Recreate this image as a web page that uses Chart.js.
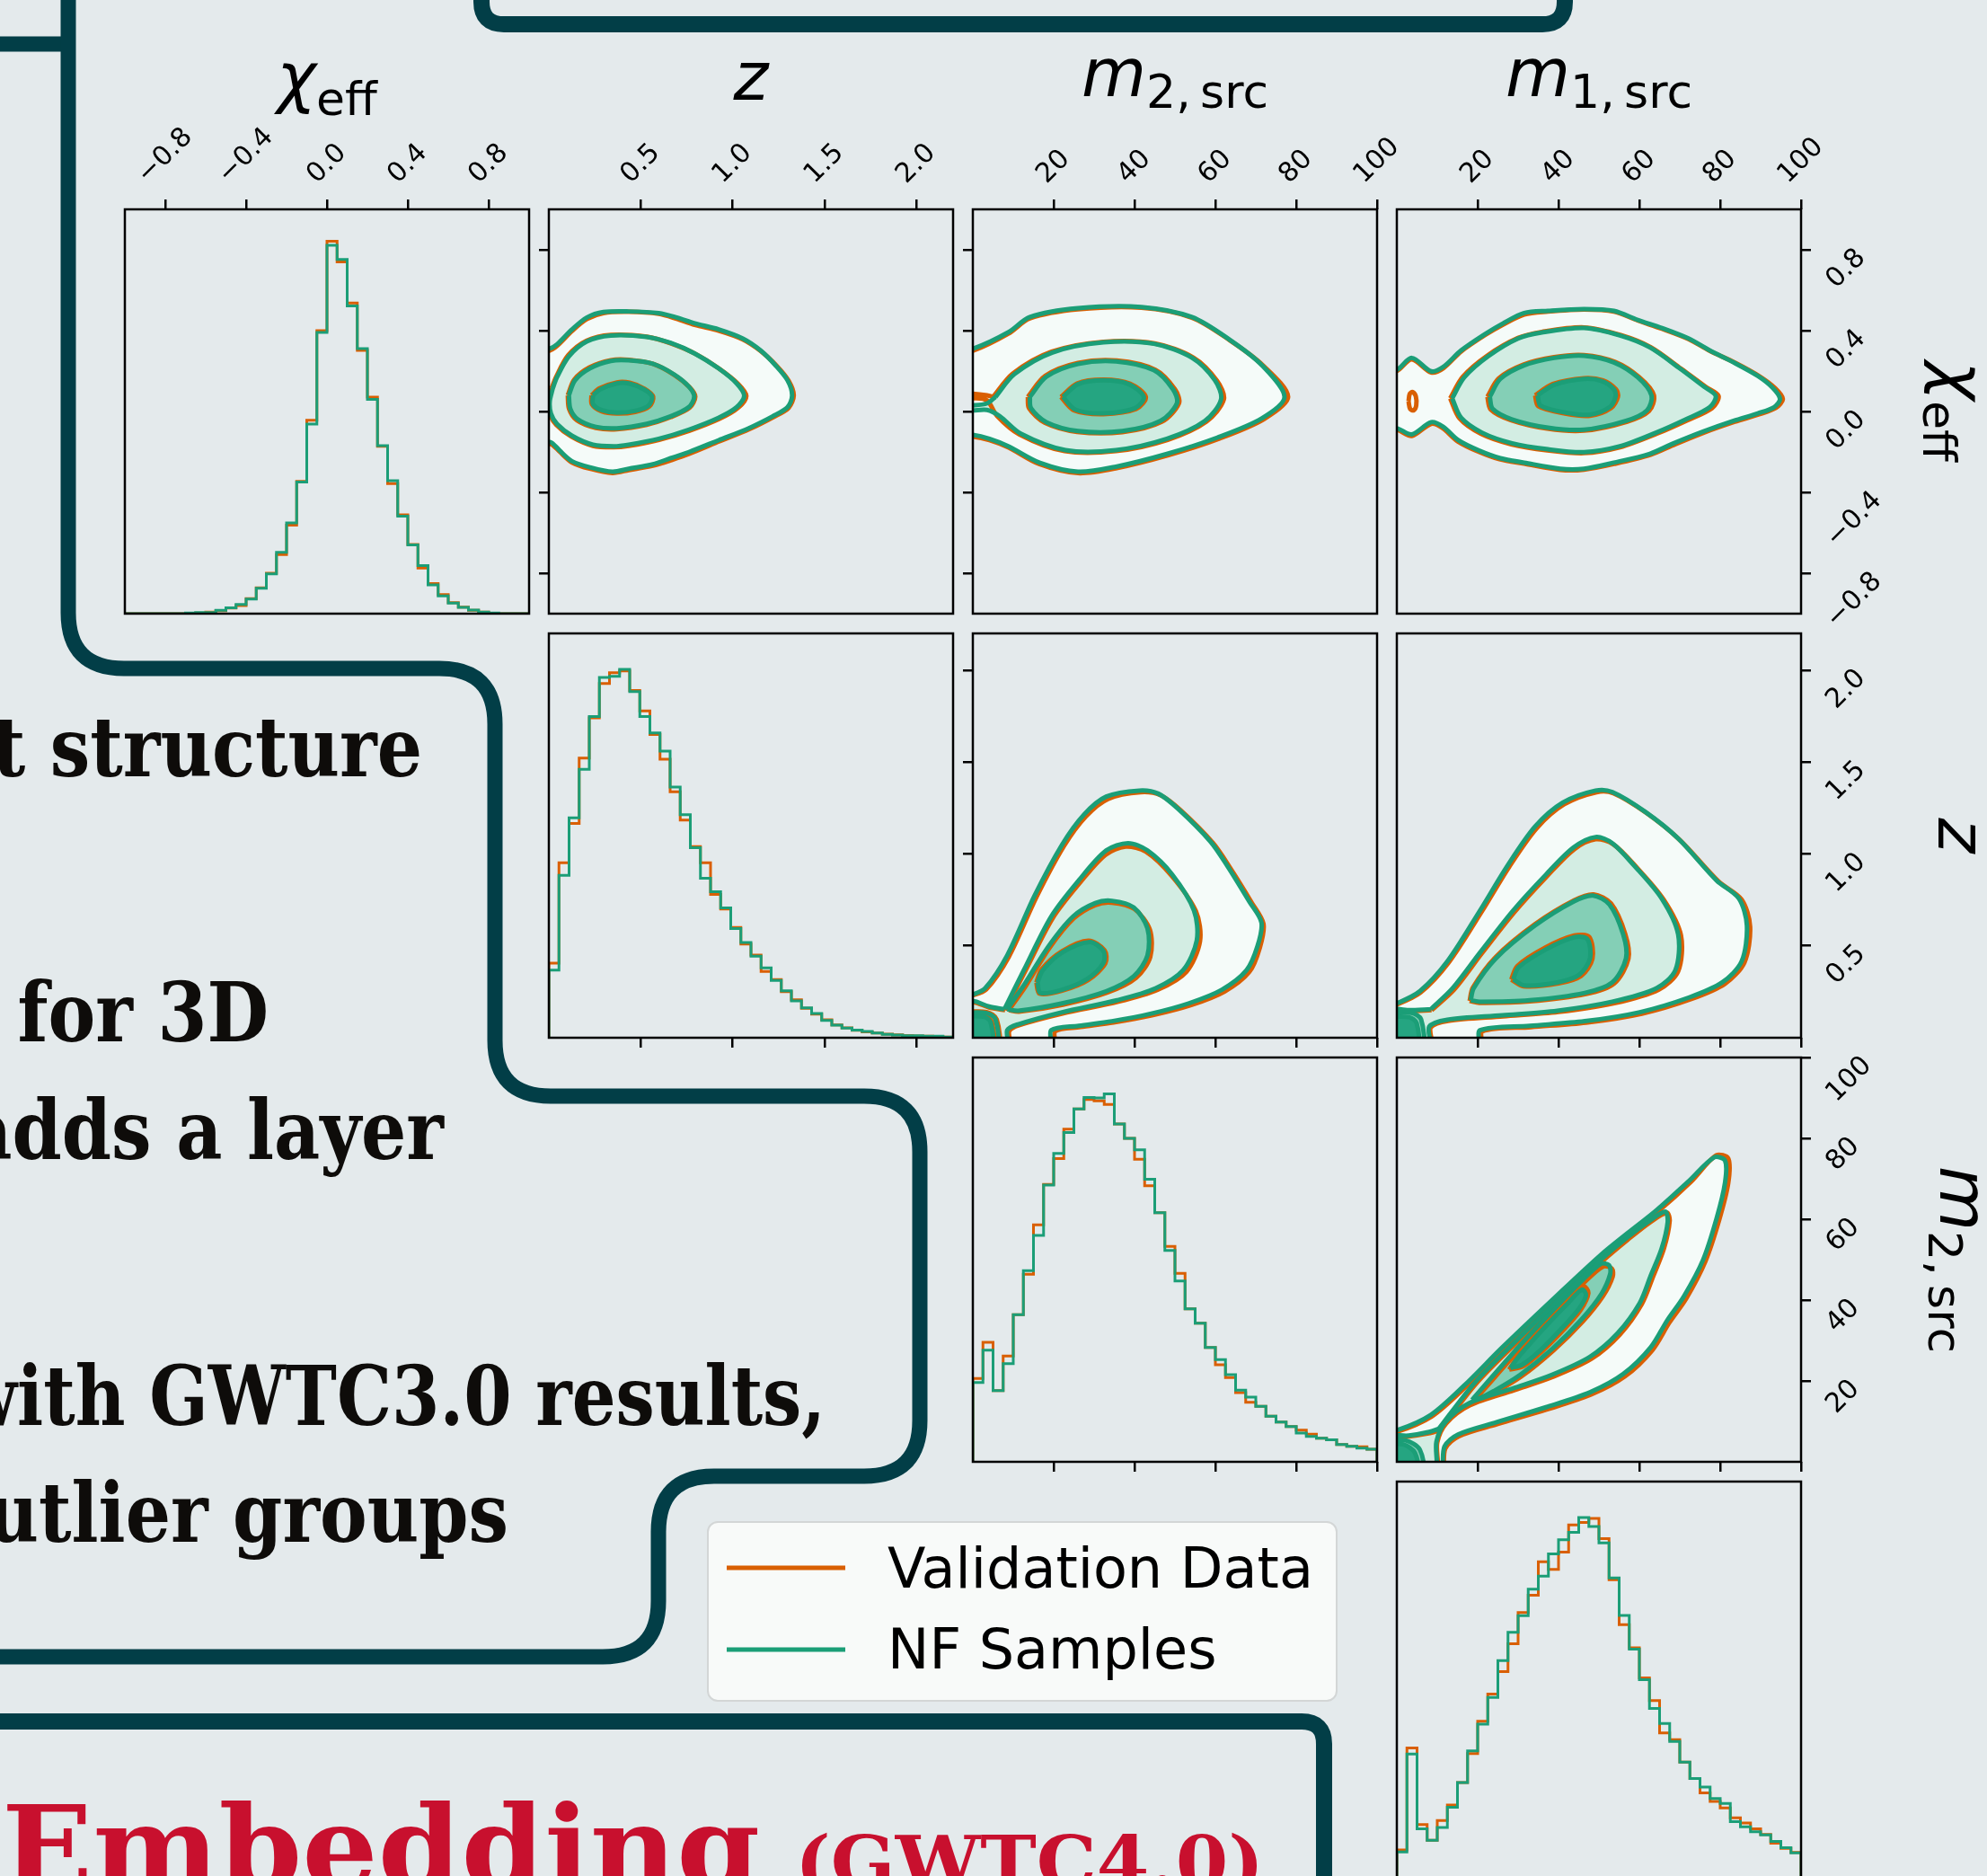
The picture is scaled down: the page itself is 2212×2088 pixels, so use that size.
<!DOCTYPE html>
<html>
<head>
<meta charset="utf-8">
<title>Validation data vs NF samples</title>
<script src="https://cdn.jsdelivr.net/npm/chart.js@4.4.1/dist/chart.umd.min.js"></script>
<style>
  html, body { margin: 0; padding: 0; }
  body { width: 2212px; height: 2088px; overflow: hidden; position: relative; background: #e4eaec; }
  canvas { position: absolute; }
  svg { position: absolute; left: 0; top: 0; }
  .lab { font-family: "DejaVu Sans"; font-size: 74px; fill: #000; }
  .pt { font-family: "DejaVu Serif"; font-weight: bold; font-size: 92px; fill: #0e0c0a; }
  .red { font-family: "DejaVu Serif"; font-weight: bold; fill: #c8102e; }
  .leg { font-family: "DejaVu Sans"; font-size: 62px; fill: #000; }
</style>
</head>
<body>
<svg width="2212" height="2088">
  <g fill="none" stroke="#023e47" stroke-width="17">
    <path d="M -20 49 L 76 49"/>
    <path d="M 76 -20 L 76 682 Q 76 744 138 744 L 489 744 Q 551 744 551 806 L 551 1158 Q 551 1220 613 1220 L 962 1220 Q 1024 1220 1024 1282 L 1024 1581 Q 1024 1643 962 1643 L 795 1643 Q 733 1643 733 1705 L 733 1782 Q 733 1844 671 1844 L -20 1844"/>
    <path stroke-width="18" d="M 536 -20 L 536 2 Q 536 27 561 27 L 1717 27 Q 1742 27 1742 2 L 1742 -20"/>
    <path stroke-width="18" d="M -20 1916 L 1449 1916 Q 1474 1916 1474 1941 L 1474 2110"/>
  </g>

  <text class="pt" data-w="1.03" x="470" y="864" text-anchor="end">t structure</text>
  <text class="pt" data-w="1.03" x="299" y="1159" text-anchor="end">s for 3D</text>
  <text class="pt" data-w="1.03" x="494" y="1290" text-anchor="end">adds a layer</text>
  <text class="pt" data-w="1" x="919" y="1586" text-anchor="end">with GWTC3.0 results,</text>
  <text class="pt" data-w="1.03" x="566" y="1716" text-anchor="end">utlier groups</text>

  <text class="red" x="2" y="2101" font-size="128" textLength="844" lengthAdjust="spacingAndGlyphs">Embedding</text>
  <text class="red" x="885" y="2101" font-size="80" textLength="522" lengthAdjust="spacingAndGlyphs">(GWTC4.0)</text>

  <!-- axis labels -->
  <text class="lab" x="364" y="111" text-anchor="middle"><tspan font-style="italic">χ</tspan><tspan font-size="52" dy="17">eff</tspan></text>
  <text class="lab" x="836" y="111" text-anchor="middle"><tspan font-style="italic">z</tspan></text>
  <text class="lab" x="1308" y="107" text-anchor="middle"><tspan font-style="italic">m</tspan><tspan font-size="52" dy="13">2,&#8201;src</tspan></text>
  <text class="lab" x="1780" y="107" text-anchor="middle"><tspan font-style="italic">m</tspan><tspan font-size="52" dy="13">1,&#8201;src</tspan></text>
  <text class="lab" transform="translate(2158 458) rotate(90)" text-anchor="middle"><tspan font-style="italic">χ</tspan><tspan font-size="52" dy="17">eff</tspan></text>
  <text class="lab" transform="translate(2158 930) rotate(90)" text-anchor="middle"><tspan font-style="italic">z</tspan></text>
  <text class="lab" transform="translate(2160 1402) rotate(90)" text-anchor="middle"><tspan font-style="italic">m</tspan><tspan font-size="52" dy="13">2,&#8201;src</tspan></text>

  <!-- legend -->
  <rect x="788" y="1694" width="700" height="199" rx="11" fill="#f8faf9" stroke="#d3d6d6" stroke-width="2"/>
  <path d="M 809 1745 L 941 1745" stroke="#d95f02" stroke-width="5"/>
  <path d="M 809 1836 L 941 1836" stroke="#1b9e77" stroke-width="5"/>
  <text class="leg" x="988" y="1767">Validation Data</text>
  <text class="leg" x="988" y="1857">NF Samples</text>
</svg>

<script>
// bin edges of the 1D histograms
var chiEdges = [-1.00,-0.95,-0.90,-0.85,-0.80,-0.75,-0.70,-0.65,-0.60,-0.55,-0.50,-0.45,-0.40,-0.35,-0.30,-0.25,-0.20,-0.15,-0.10,-0.05,
  0.00,0.05,0.10,0.15,0.20,0.25,0.30,0.35,0.40,0.45,0.50,0.55,0.60,0.65,0.70,0.75,0.80,0.85,0.90,0.95,1.00];
var zEdges = [0,0.055,0.11,0.165,0.22,0.275,0.33,0.385,0.44,0.495,0.55,0.605,0.66,0.715,0.77,0.825,0.88,0.935,0.99,1.045,
  1.10,1.155,1.21,1.265,1.32,1.375,1.43,1.485,1.54,1.595,1.65,1.705,1.76,1.815,1.87,1.925,1.98,2.035,2.09,2.145,2.20];
var massEdges = [0,2.5,5,7.5,10,12.5,15,17.5,20,22.5,25,27.5,30,32.5,35,37.5,40,42.5,45,47.5,
  50,52.5,55,57.5,60,62.5,65,67.5,70,72.5,75,77.5,80,82.5,85,87.5,90,92.5,95,97.5,100];

// normalised histogram heights (validation = orange, NF = green)
var chiVal = [0,0,0,0,0,0,0.001,0.002,0.004,0.008,0.015,0.022,0.041,0.070,0.110,0.161,0.241,0.360,0.526,0.770,
  1.013,0.957,0.845,0.716,0.589,0.455,0.354,0.269,0.188,0.124,0.082,0.052,0.030,0.018,0.009,0.004,0.001,0,0,0];
var chiNF = [0,0,0,0,0,0,0.002,0.003,0.003,0.009,0.016,0.025,0.040,0.069,0.108,0.167,0.247,0.358,0.516,0.765,
  1.002,0.964,0.837,0.721,0.583,0.457,0.362,0.265,0.187,0.131,0.078,0.048,0.029,0.017,0.010,0.004,0.002,0,0,0];
var zVal = [0.203,0.476,0.583,0.761,0.870,0.964,0.993,0.998,0.945,0.889,0.825,0.758,0.669,0.592,0.520,0.476,0.390,0.350,0.300,0.255,
  0.225,0.180,0.158,0.125,0.103,0.080,0.064,0.049,0.035,0.027,0.020,0.016,0.013,0.010,0.008,0.006,0.005,0.004,0.003,0.002];
var zNF = [0.184,0.442,0.598,0.730,0.874,0.980,0.983,1.002,0.942,0.874,0.829,0.780,0.682,0.607,0.517,0.434,0.397,0.353,0.297,0.259,
  0.222,0.190,0.156,0.128,0.100,0.081,0.066,0.047,0.034,0.026,0.021,0.017,0.013,0.009,0.0075,0.0056,0.0056,0.004,0.004,0.002];
var m2Val = [0.227,0.325,0.194,0.288,0.400,0.510,0.645,0.755,0.825,0.905,0.960,0.986,0.982,0.972,0.919,0.880,0.823,0.751,0.678,0.586,
  0.513,0.416,0.377,0.311,0.264,0.229,0.188,0.162,0.151,0.124,0.108,0.096,0.086,0.075,0.064,0.060,0.047,0.042,0.041,0.034];
var m2NF = [0.216,0.304,0.194,0.267,0.400,0.520,0.616,0.753,0.839,0.896,0.960,0.991,0.990,1.001,0.919,0.880,0.849,0.769,0.678,0.575,
  0.492,0.416,0.377,0.311,0.278,0.237,0.195,0.176,0.151,0.124,0.108,0.096,0.078,0.069,0.064,0.060,0.047,0.042,0.037,0.034];
var m1Val = [0.098,0.375,0.167,0.124,0.178,0.220,0.281,0.360,0.448,0.522,0.583,0.659,0.744,0.791,0.882,0.861,0.908,0.982,0.989,1.000,
  0.945,0.833,0.711,0.648,0.566,0.504,0.416,0.398,0.337,0.292,0.253,0.230,0.212,0.185,0.171,0.155,0.140,0.116,0.102,0.091];
var m1NF = [0.092,0.359,0.155,0.124,0.159,0.214,0.281,0.367,0.440,0.513,0.613,0.690,0.735,0.807,0.843,0.903,0.942,0.962,1.002,0.978,
  0.933,0.838,0.736,0.644,0.561,0.483,0.442,0.393,0.337,0.292,0.269,0.238,0.224,0.175,0.161,0.147,0.139,0.121,0.104,0.090];

// tick values and axis ranges
var chiTicks = [-0.8, -0.4, 0.0, 0.4, 0.8];
var zTicks = [0.5, 1.0, 1.5, 2.0];
var massTicks = [20, 40, 60, 80, 100];
var chiRange = [-1, 1], zRange = [0, 2.2], massRange = [0, 100], histRange = [0, 1.1];

// contour levels, outer (2 sigma) to inner (0.5 sigma). [x, y] in data units
// z vs chi_eff
var A4 = [[-0.05,0.31],[0,0.310],[0.044,0.332],[0.126,0.406],[0.207,0.465],[0.297,0.492],[0.435,0.495],[0.598,0.487],[0.696,0.465],[0.794,0.436],[0.924,0.406],[1.055,0.361],[1.152,0.302],[1.234,0.228],[1.299,0.154],[1.324,0.080],[1.299,0.021],[1.218,-0.024],[1.087,-0.083],[0.924,-0.142],[0.761,-0.201],[0.663,-0.231],[0.566,-0.261],[0.435,-0.283],[0.346,-0.298],[0.223,-0.276],[0.126,-0.246],[0.060,-0.194],[0.020,-0.157],[0,-0.150],[-0.05,-0.15]];
var A3 = [[0.020,0.110],[0.044,0.169],[0.109,0.273],[0.207,0.347],[0.337,0.376],[0.533,0.369],[0.663,0.339],[0.794,0.287],[0.924,0.213],[1.022,0.139],[1.063,0.077],[1.022,0.021],[0.924,-0.031],[0.761,-0.090],[0.598,-0.135],[0.435,-0.164],[0.354,-0.172],[0.240,-0.164],[0.126,-0.120],[0.044,-0.061],[0.011,-0.009],[0.005,0.050]];
var A2 = [[0.109,0.080],[0.142,0.154],[0.223,0.213],[0.337,0.250],[0.435,0.253],[0.566,0.236],[0.680,0.184],[0.761,0.124],[0.791,0.073],[0.761,0.021],[0.663,-0.024],[0.533,-0.061],[0.370,-0.083],[0.256,-0.076],[0.158,-0.039],[0.117,0.013]];
var A1 = [[0.240,0.080],[0.280,0.110],[0.370,0.139],[0.435,0.139],[0.517,0.110],[0.562,0.073],[0.541,0.028],[0.468,0.003],[0.370,-0.006],[0.289,0.006],[0.240,0.036]];
var A4o = [[-0.05,0.30],[0,0.300],[0.044,0.324],[0.126,0.398],[0.207,0.457],[0.297,0.487],[0.435,0.493],[0.598,0.483],[0.696,0.458],[0.794,0.428],[0.924,0.400],[1.055,0.357],[1.155,0.298],[1.240,0.226],[1.305,0.152],[1.333,0.080],[1.305,0.018],[1.222,-0.028],[1.090,-0.088],[0.928,-0.148],[0.766,-0.209],[0.668,-0.240],[0.566,-0.268],[0.435,-0.290],[0.346,-0.304],[0.223,-0.283],[0.126,-0.252],[0.060,-0.200],[0.020,-0.165],[0,-0.160],[-0.05,-0.16]];
var A3o = [[0.015,0.115],[0.040,0.172],[0.105,0.278],[0.205,0.350],[0.337,0.379],[0.533,0.370],[0.663,0.337],[0.800,0.284],[0.930,0.210],[1.030,0.137],[1.075,0.077],[1.030,0.018],[0.930,-0.036],[0.766,-0.095],[0.600,-0.140],[0.435,-0.170],[0.354,-0.177],[0.240,-0.170],[0.122,-0.124],[0.040,-0.066],[0.005,-0.012],[0.0,0.050]];
var A2o = [[0.103,0.080],[0.138,0.158],[0.220,0.218],[0.337,0.254],[0.435,0.256],[0.566,0.236],[0.683,0.181],[0.766,0.120],[0.797,0.073],[0.766,0.018],[0.663,-0.028],[0.533,-0.066],[0.370,-0.088],[0.256,-0.081],[0.152,-0.043],[0.110,0.013]];
var A1o = [[0.232,0.080],[0.275,0.114],[0.370,0.144],[0.440,0.142],[0.522,0.112],[0.568,0.073],[0.547,0.025],[0.470,-0.002],[0.370,-0.010],[0.285,0.002],[0.234,0.036]];

// m2 vs chi_eff
var B4 = [[-3,0.31],[0,0.310],[8.8,0.392],[14.1,0.467],[26.0,0.511],[41.7,0.517],[54.2,0.467],[63.6,0.354],[71.5,0.229],[77.1,0.072],[71.5,-0.034],[60.5,-0.129],[48.0,-0.210],[35.4,-0.273],[26.0,-0.298],[16.6,-0.254],[8.8,-0.172],[4.1,-0.135],[0,-0.116],[-3,-0.116]];
var B3 = [[5.6,0.072],[10.3,0.185],[19.7,0.292],[32.3,0.342],[44.8,0.335],[54.2,0.266],[59.9,0.154],[61.4,0.060],[57.4,-0.047],[48.0,-0.135],[35.4,-0.191],[22.9,-0.191],[11.9,-0.110],[6.6,-0.022],[3.5,0.008],[0,0.005],[-3,0.005],[-3,0.030],[0,0.030],[3.5,0.040]];
var B2 = [[14.1,0.072],[18.2,0.172],[26.0,0.235],[35.4,0.248],[44.8,0.204],[49.5,0.110],[50.5,0.041],[46.4,-0.047],[37.0,-0.097],[26.0,-0.097],[18.2,-0.053],[14.4,0.016]];
var B1 = [[22.3,0.072],[26.0,0.135],[32.3,0.154],[38.6,0.135],[42.3,0.072],[40.1,0.016],[32.3,-0.009],[25.4,0.009]];
var B4o = [[-3,0.30],[0,0.300],[8.8,0.385],[14.1,0.460],[26.0,0.505],[41.7,0.513],[54.2,0.464],[63.6,0.352],[71.8,0.228],[78.0,0.072],[72.0,-0.038],[61.0,-0.134],[48.4,-0.216],[35.6,-0.280],[26.0,-0.305],[16.4,-0.260],[8.8,-0.178],[4.1,-0.142],[0,-0.124],[-3,-0.124]];
var B3o = [[5.0,0.072],[9.9,0.188],[19.5,0.296],[32.3,0.345],[45.0,0.337],[54.6,0.266],[60.4,0.152],[62.1,0.060],[57.8,-0.050],[48.2,-0.140],[35.4,-0.196],[22.7,-0.196],[11.5,-0.113],[6.0,-0.022],[3.5,0.055],[0,0.066],[-3,0.066],[-3,0.088],[0,0.088],[3.5,0.080]];
var B2o = [[13.6,0.072],[17.9,0.176],[26.0,0.240],[35.6,0.252],[45.2,0.206],[50.0,0.110],[51.0,0.041],[46.8,-0.050],[37.0,-0.102],[25.8,-0.101],[17.8,-0.056],[13.9,0.016]];
var B1o = [[21.8,0.072],[25.8,0.139],[32.3,0.158],[38.9,0.138],[42.8,0.072],[40.4,0.012],[32.3,-0.013],[25.0,0.006]];

// m1 vs chi_eff
var C4 = [[-3,0.206],[0,0.206],[3.7,0.265],[8.5,0.199],[11.5,0.221],[15.9,0.302],[21.9,0.384],[26.3,0.436],[31.5,0.487],[37.4,0.498],[46.3,0.507],[53.7,0.498],[59.6,0.453],[65.6,0.413],[72.2,0.361],[77.4,0.302],[83.3,0.243],[89.3,0.176],[93.0,0.117],[94.8,0.062],[93.3,0.021],[89.3,-0.009],[83.3,-0.046],[75.9,-0.098],[68.5,-0.157],[62.6,-0.209],[53.7,-0.253],[46.3,-0.283],[40.4,-0.283],[31.5,-0.253],[25.6,-0.231],[20.4,-0.194],[15.2,-0.142],[11.5,-0.076],[8.5,-0.053],[3.7,-0.113],[0,-0.083],[-3,-0.083]];
var C3 = [[13.7,0.065],[16.7,0.169],[22.6,0.273],[30.0,0.361],[35.9,0.391],[46.3,0.413],[55.2,0.376],[62.6,0.317],[70.0,0.213],[75.9,0.124],[78.9,0.077],[77.4,0.021],[71.5,-0.039],[64.1,-0.105],[55.2,-0.172],[46.3,-0.201],[37.4,-0.187],[28.5,-0.157],[21.1,-0.105],[15.9,-0.031]];
var C2 = [[23.0,0.073],[25.6,0.161],[31.5,0.228],[38.9,0.265],[46.3,0.276],[53.7,0.243],[59.6,0.169],[63.0,0.080],[61.9,0.006],[56.7,-0.046],[46.3,-0.090],[37.4,-0.080],[28.5,-0.039],[23.7,0.013]];
var C1 = [[34.8,0.080],[38.9,0.132],[46.3,0.161],[50.7,0.151],[53.7,0.110],[54.1,0.073],[52.6,0.021],[47.8,-0.016],[41.9,-0.006],[35.6,0.028]];
var C4o = [[-3,0.200],[0,0.200],[3.7,0.258],[8.5,0.193],[11.5,0.214],[15.9,0.297],[21.9,0.379],[26.3,0.430],[31.5,0.480],[37.4,0.494],[46.3,0.504],[53.7,0.494],[59.6,0.450],[65.6,0.409],[72.2,0.358],[77.4,0.300],[83.8,0.240],[89.8,0.173],[93.6,0.115],[95.5,0.062],[93.8,0.018],[89.6,-0.014],[83.6,-0.051],[76.2,-0.103],[68.8,-0.163],[62.8,-0.214],[53.9,-0.259],[46.3,-0.288],[40.4,-0.289],[31.5,-0.258],[25.4,-0.236],[20.2,-0.199],[15.0,-0.147],[11.3,-0.082],[8.5,-0.061],[3.7,-0.121],[0,-0.090],[-3,-0.090]];
var C3o = [[13.2,0.065],[16.3,0.172],[22.4,0.277],[30.0,0.364],[35.9,0.394],[46.3,0.416],[55.4,0.378],[62.8,0.318],[70.3,0.212],[76.4,0.122],[79.6,0.077],[78.0,0.017],[71.8,-0.044],[64.3,-0.110],[55.2,-0.177],[46.3,-0.206],[37.2,-0.192],[28.3,-0.162],[20.8,-0.110],[15.5,-0.034]];
var C2o = [[22.4,0.073],[25.2,0.164],[31.3,0.232],[38.9,0.269],[46.3,0.279],[54.0,0.245],[60.0,0.169],[63.6,0.080],[62.4,0.002],[57.0,-0.050],[46.3,-0.095],[37.2,-0.085],[28.2,-0.043],[23.2,0.010]];
var C1o = [[34.2,0.080],[38.6,0.136],[46.3,0.165],[51.0,0.154],[54.2,0.110],[54.7,0.073],[53.0,0.017],[47.8,-0.021],[41.6,-0.010],[35.0,0.026]];
var C3oIsland = [[2.9,0.050],[3.2,0.088],[3.9,0.096],[4.7,0.075],[4.8,0.030],[4.2,0.006],[3.3,0.012]];

// m2 vs z
var D4 = [[-3,0.22],[0.07,0.236],[3.05,0.269],[8.5,0.448],[15.3,0.774],[22.1,1.051],[27.5,1.214],[33.0,1.312],[41.2,1.345],[45.9,1.328],[50.7,1.247],[58.8,1.067],[62.9,0.937],[68.4,0.741],[71.4,0.627],[70.4,0.497],[67.7,0.367],[61.6,0.261],[53.4,0.187],[43.9,0.130],[34.4,0.090],[26.2,0.065],[19.4,0.041],[19.0,-0.05],[-3,-0.05]];
var D3 = [[7.8,0.155],[12.6,0.367],[19.4,0.660],[26.2,0.856],[33.0,1.019],[38.4,1.059],[43.2,1.019],[49.3,0.889],[54.7,0.693],[55.4,0.530],[52.0,0.367],[45.2,0.269],[35.7,0.204],[22.1,0.139],[11.2,0.073],[8.5,0.041],[8.5,-0.05],[-3,-0.05],[-3,0.19],[0,0.20],[4,0.17]];
var D2 = [[8.5,0.155],[12.6,0.285],[18.7,0.497],[24.8,0.660],[30.3,0.733],[34.4,0.745],[39.8,0.709],[43.2,0.595],[43.2,0.448],[39.8,0.334],[33.0,0.253],[22.1,0.187],[11.2,0.147]];
var D1 = [[16.0,0.301],[17.3,0.367],[22.1,0.464],[28.9,0.521],[32.3,0.472],[32.3,0.407],[28.2,0.318],[22.1,0.261],[16.7,0.244]];
var D2c = [[-3,0.135],[3.2,0.135],[5.6,0.10],[5.8,-0.05],[-3,-0.05]];
var D1c = [[-3,0.115],[2.6,0.115],[4.4,0.085],[4.5,-0.05],[-3,-0.05]];
var D4o = [[-3,0.22],[0.07,0.232],[3.3,0.262],[8.9,0.440],[15.8,0.768],[22.6,1.045],[28.0,1.205],[33.5,1.300],[41.5,1.336],[46.4,1.320],[51.3,1.240],[59.4,1.060],[63.5,0.930],[69.0,0.735],[71.9,0.620],[71.0,0.490],[68.4,0.358],[62.3,0.252],[54.0,0.178],[44.3,0.122],[34.8,0.083],[26.6,0.058],[20.4,0.036],[20.0,-0.05],[-3,-0.05]];
var D3o = [[8.0,0.150],[12.9,0.360],[19.8,0.652],[26.6,0.846],[32.8,0.995],[37.8,1.040],[42.8,1.012],[49.2,0.880],[55.2,0.688],[56.2,0.525],[52.8,0.358],[45.8,0.262],[36.0,0.196],[22.2,0.132],[11.4,0.068],[9.0,0.036],[9.0,-0.05],[-3,-0.05],[-3,0.185],[0,0.195],[4,0.165]];
var D2o = [[8.9,0.150],[13.0,0.278],[19.0,0.490],[25.0,0.650],[30.3,0.722],[34.4,0.735],[40.0,0.700],[43.8,0.588],[43.9,0.440],[40.4,0.326],[33.3,0.246],[22.3,0.180],[11.4,0.142]];
var D1o = [[15.7,0.300],[17.0,0.372],[22.1,0.471],[28.6,0.528],[32.6,0.476],[32.8,0.405],[28.5,0.313],[22.1,0.256],[16.5,0.240]];
var D2co = [[-3,0.140],[3.4,0.140],[5.9,0.10],[6.1,-0.05],[-3,-0.05]];
var D1co = [[-3,0.118],[2.8,0.118],[4.7,0.085],[4.8,-0.05],[-3,-0.05]];

// m1 vs z
var E4 = [[-3,0.17],[0,0.187],[5.7,0.253],[12.5,0.415],[20.6,0.693],[27.4,0.937],[34.2,1.149],[41.0,1.279],[49.2,1.345],[53.3,1.337],[61.4,1.230],[69.6,1.084],[79.1,0.856],[84.6,0.758],[86.6,0.611],[85.3,0.415],[80.5,0.301],[72.4,0.220],[60.1,0.139],[46.5,0.090],[32.9,0.065],[20.6,0.041],[19.9,-0.05],[-3,-0.05]];
var E3 = [[8.4,0.155],[13.8,0.269],[20.6,0.464],[28.8,0.693],[36.9,0.888],[43.7,1.035],[49.2,1.092],[53.3,1.059],[58.7,0.937],[65.5,0.758],[69.6,0.562],[68.9,0.367],[64.2,0.269],[53.3,0.196],[39.7,0.147],[26.1,0.122],[12.5,0.098],[8.0,0.06],[8.0,-0.05],[-3,-0.05],[-3,0.15],[3,0.15]];
var E2 = [[18.3,0.204],[19.0,0.269],[24.5,0.432],[34.2,0.611],[43.7,0.741],[48.5,0.774],[52.6,0.725],[56.0,0.562],[56.7,0.432],[53.3,0.301],[46.5,0.244],[32.9,0.204],[20.6,0.196]];
var E1 = [[28.8,0.318],[30.1,0.383],[36.9,0.481],[43.7,0.546],[47.1,0.538],[47.8,0.432],[45.1,0.342],[39.7,0.301],[31.5,0.285]];
var E2c = [[-3,0.135],[3.6,0.135],[6.0,0.10],[6.2,-0.05],[-3,-0.05]];
var E1c = [[-3,0.112],[3.0,0.112],[4.9,0.08],[5.0,-0.05],[-3,-0.05]];
var E4o = [[-3,0.165],[0,0.180],[5.9,0.246],[12.8,0.408],[21.0,0.686],[27.8,0.930],[34.6,1.140],[41.4,1.270],[49.4,1.336],[53.6,1.330],[61.8,1.222],[70.0,1.076],[79.6,0.850],[85.3,0.752],[87.4,0.605],[86.0,0.410],[81.2,0.294],[73.0,0.212],[60.6,0.131],[46.8,0.082],[33.2,0.058],[21.2,0.035],[20.6,-0.05],[-3,-0.05]];
var E3o = [[8.6,0.150],[14.2,0.262],[21.0,0.458],[29.2,0.686],[37.2,0.880],[43.9,1.026],[49.2,1.080],[53.6,1.052],[59.2,0.930],[66.0,0.752],[70.3,0.556],[69.6,0.362],[64.8,0.262],[53.8,0.188],[40.0,0.140],[26.3,0.116],[12.7,0.092],[8.4,0.056],[8.4,-0.05],[-3,-0.05],[-3,0.145],[3,0.145]];
var E2o = [[18.0,0.200],[18.8,0.272],[24.4,0.438],[34.2,0.618],[43.9,0.748],[48.7,0.780],[53.0,0.730],[56.5,0.565],[57.3,0.430],[53.8,0.296],[46.8,0.238],[32.9,0.198],[20.4,0.190]];
var E1o = [[28.3,0.316],[29.8,0.390],[36.7,0.490],[43.9,0.556],[47.6,0.548],[48.4,0.430],[45.6,0.336],[40.0,0.295],[31.3,0.280]];

// m1 vs m2
var F4 = [[-3,7.8],[0,7.8],[8.4,11.6],[16.6,18.8],[26.1,28.3],[39.7,41.2],[50.5,51.2],[57.0,56.5],[64.2,62.2],[72.4,69.6],[78.5,75.3],[81.2,74.5],[81.2,69.1],[79.1,60.2],[75.7,49.8],[71.0,40.9],[66.9,35.0],[62.8,28.3],[56.0,21.7],[47.8,17.2],[36.9,13.5],[24.7,9.8],[15.2,6.8],[11.8,3.8],[10.5,-3],[-3,-3]];
var F3 = [[10.4,8.2],[19.3,19.6],[30.2,30.6],[41.0,41.0],[50.5,50.0],[57.0,55.5],[62.8,59.8],[66.4,61.9],[67.0,59.3],[65.5,52.7],[62.8,46.0],[60.1,39.3],[54.7,31.9],[47.8,26.0],[38.3,21.5],[28.8,18.2],[17.9,14.5],[12.0,9.8],[9.8,5.0],[9.2,-3],[-3,-3],[-3,6.0],[3,6.5],[8.0,7.4]];
var F2 = [[18.6,15.3],[24.0,21.5],[30.2,28.5],[39.7,38.6],[46.0,45.0],[50.5,49.0],[52.5,48.6],[52.8,46.5],[50.6,41.5],[45.5,35.0],[38.5,28.0],[30.5,21.5],[24.0,17.5],[20.2,15.6]];
var F1 = [[28.1,23.2],[30.5,26.4],[36.9,33.6],[42.5,39.4],[45.8,42.6],[46.8,41.2],[45.0,37.8],[40.8,33.0],[35.5,27.6],[31.0,24.0]];
var F2c = [[-3,5.3],[2.2,5.3],[5.7,3.0],[6.3,-3],[-3,-3]];
var F1c = [[-3,4.3],[1.6,4.3],[4.5,2.2],[5.0,-3],[-3,-3]];
var F4o = [[-3,7.4],[0,7.4],[8.6,11.2],[16.9,18.4],[26.4,27.9],[40.0,40.8],[50.8,50.8],[57.3,56.1],[64.5,61.8],[72.8,69.3],[79.0,75.8],[82.0,75.0],[82.0,69.0],[79.8,60.0],[76.3,49.5],[71.6,40.4],[67.4,34.4],[63.2,27.6],[56.4,21.1],[48.0,16.6],[37.0,12.9],[24.8,9.3],[15.3,6.3],[12.0,3.3],[10.8,-3],[-3,-3]];
var F3o = [[10.7,7.8],[19.6,19.3],[30.5,30.3],[41.2,40.6],[50.8,49.6],[57.2,55.0],[62.6,59.2],[66.8,61.6],[67.5,59.6],[66.1,52.8],[63.4,45.8],[60.6,39.0],[55.2,31.5],[48.2,25.5],[38.6,21.0],[29.0,17.7],[18.1,14.0],[12.2,9.5],[10.0,4.8],[9.5,-3],[-3,-3],[-3,5.8],[3,6.3],[8.2,7.1]];
var F2o = [[18.9,14.9],[24.3,21.0],[30.5,28.0],[40.0,38.0],[46.4,44.4],[51.0,48.3],[53.2,47.8],[53.4,45.8],[51.0,41.0],[45.9,34.6],[38.8,27.6],[30.8,21.1],[24.2,17.1],[20.4,15.2]];
var F1o = [[27.8,22.8],[30.3,26.6],[36.8,34.0],[42.6,39.9],[46.2,43.4],[47.4,41.8],[45.5,37.6],[41.2,32.6],[35.8,27.2],[31.2,23.6]];

// ---- layout / style
var TICK_LEN = 11, TICK_W = 2.5, TICK_PX = 30, TICK_PAD = 12;
var PANEL = 450, MARGIN = 150;
var colLeft = [139, 611, 1083, 1555];
var rowTop = [233, 705, 1177, 1649];
var ORANGE = '#d95f02', GREEN = '#1b9e77';
var LEVEL_FILL = ['#f5fbf9', '#d3ede3', '#84cfb6', '#25a581'];

function fmtTick(v, digits) {
  return v.toFixed(digits).replace('-', '\u2212');
}
function closed(arr) {
  var a = arr.map(function(p){ return {x: p[0], y: p[1]}; });
  a.push({x: arr[0][0], y: arr[0][1]});
  return a;
}
function histPoints(edges, vals) {
  var a = [{x: edges[0], y: 0}];
  vals.forEach(function(v, i){ a.push({x: edges[i], y: v}); });
  a.push({x: edges[edges.length - 1], y: 0});
  return a;
}

function fillSet(arr, color, order) {
  return { data: closed(arr), showLine: true, fill: 'shape', backgroundColor: color,
    borderColor: 'rgba(0,0,0,0)', borderWidth: 0, pointRadius: 0, tension: 0.3, order: order, clip: 0 };
}
function lineSet(arr, color, order) {
  return { data: closed(arr), showLine: true, fill: false, borderColor: color, borderWidth: 5,
    borderJoinStyle: 'round', pointRadius: 0, tension: 0.3, order: order, clip: 0 };
}
function histSet(edges, vals, color, order) {
  return { data: histPoints(edges, vals), showLine: true, stepped: true, fill: false, borderColor: color,
    borderWidth: 3, pointRadius: 0, order: order, clip: 0 };
}

var framePlugin = {
  id: 'frame',
  afterDatasetsDraw: function(chart) {
    var a = chart.chartArea, c = chart.ctx;
    c.save();
    c.lineWidth = 2.5;
    c.strokeStyle = '#000';
    c.strokeRect(a.left, a.top, a.right - a.left, a.bottom - a.top);
    c.restore();
  }
};

// rotated tick labels, placed like matplotlib (rotation 45)
var tickLabelPlugin = {
  id: 'tickLabels',
  afterDraw: function(chart, args, opts) {
    var ctx = chart.ctx, area = chart.chartArea;
    ctx.save();
    ctx.font = TICK_PX + 'px "DejaVu Sans"';
    ctx.fillStyle = '#000';
    ctx.textAlign = 'left';
    ctx.textBaseline = 'alphabetic';
    function put(scale, side, digits) {
      scale.ticks.forEach(function(t){
        var s = fmtTick(t.value, digits);
        var w = ctx.measureText(s).width;
        var half = (w + TICK_PX) * Math.SQRT1_2 / 2;
        var p = scale.getPixelForValue(t.value);
        var cx, cy;
        if (side === 'top') { cx = p; cy = area.top - TICK_LEN - TICK_PAD - half; }
        else { cx = area.right + TICK_LEN + TICK_PAD + half; cy = p - 0.2 * TICK_PX + half; }
        ctx.save();
        ctx.translate(cx, cy);
        ctx.rotate(-Math.PI / 4);
        ctx.fillText(s, -w / 2, 0.26 * TICK_PX);
        ctx.restore();
      });
    }
    if (typeof opts.top === 'number') put(chart.scales.x, 'top', opts.top);
    if (typeof opts.right === 'number') put(chart.scales.y, 'right', opts.right);
    ctx.restore();
  }
};

function scaleOpts(axis, spec) {
  var size = spec.ticks ? TICK_LEN : 0;
  return {
    type: 'linear', axis: axis, position: spec.pos || (axis === 'x' ? 'bottom' : 'left'),
    min: spec.range[0], max: spec.range[1],
    display: !!spec.ticks,
    afterBuildTicks: function(s){ s.ticks = (spec.ticks || []).map(function(v){ return {value: v}; }); },
    afterFit: function(s){
      if (axis === 'x') s.height = size; else s.width = size;
      s.paddingTop = s.paddingBottom = s.paddingLeft = s.paddingRight = 0;
    },
    grid: { display: true, drawOnChartArea: false, drawTicks: true, tickLength: TICK_LEN,
      tickWidth: TICK_W, tickColor: '#000', lineWidth: TICK_W, color: '#000' },
    border: { display: false },
    ticks: { display: false }
  };
}

var panels = [
  { col: 0, row: 0, x: {range: chiRange, ticks: chiTicks, pos: 'top'}, y: {range: histRange}, labels: {top: 1},
    hist: {edges: chiEdges, val: chiVal, nf: chiNF} },
  { col: 1, row: 0, x: {range: zRange, ticks: zTicks, pos: 'top'}, y: {range: chiRange, ticks: chiTicks, pos: 'left'}, labels: {top: 1},
    nf: [A4, A3, A2, A1], val: [A4o, A3o, A2o, A1o] },
  { col: 2, row: 0, x: {range: massRange, ticks: massTicks, pos: 'top'}, y: {range: chiRange, ticks: chiTicks, pos: 'left'}, labels: {top: 0},
    nf: [B4, B3, B2, B1], val: [B4o, B3o, B2o, B1o] },
  { col: 3, row: 0, x: {range: massRange, ticks: massTicks, pos: 'top'}, y: {range: chiRange, ticks: chiTicks, pos: 'right'}, labels: {top: 0, right: 1},
    nf: [C4, C3, C2, C1], val: [C4o, C3o, C2o, C1o, C3oIsland] },
  { col: 1, row: 1, x: {range: zRange, ticks: zTicks}, y: {range: histRange},
    hist: {edges: zEdges, val: zVal, nf: zNF} },
  { col: 2, row: 1, x: {range: massRange, ticks: massTicks}, y: {range: zRange, ticks: zTicks, pos: 'left'},
    nf: [D4, D3, D2, D1], corner: [D2c, D1c], val: [D4o, D3o, D2o, D1o, D2co, D1co] },
  { col: 3, row: 1, x: {range: massRange, ticks: massTicks}, y: {range: zRange, ticks: zTicks, pos: 'right'}, labels: {right: 1},
    nf: [E4, E3, E2, E1], corner: [E2c, E1c], val: [E4o, E3o, E2o, E1o] },
  { col: 2, row: 2, x: {range: massRange, ticks: massTicks}, y: {range: histRange},
    hist: {edges: massEdges, val: m2Val, nf: m2NF} },
  { col: 3, row: 2, x: {range: massRange, ticks: massTicks}, y: {range: massRange, ticks: massTicks, pos: 'right'}, labels: {right: 0},
    nf: [F4, F3, F2, F1], corner: [F2c, F1c], val: [F4o, F3o, F2o, F1o] },
  { col: 3, row: 3, x: {range: massRange, ticks: massTicks}, y: {range: histRange},
    hist: {edges: massEdges, val: m1Val, nf: m1NF} }
];

function buildDatasets(p) {
  var sets = [];
  if (p.hist) {
    sets.push(histSet(p.hist.edges, p.hist.val, ORANGE, 2));
    sets.push(histSet(p.hist.edges, p.hist.nf, GREEN, 1));
    return sets;
  }
  p.nf.forEach(function(c, i){ sets.push(fillSet(c, LEVEL_FILL[i], 60 - i)); });
  (p.corner || []).forEach(function(c, i){ sets.push(fillSet(c, LEVEL_FILL[i + 2], 50 - i)); });
  p.val.forEach(function(c){ sets.push(lineSet(c, ORANGE, 20)); });
  p.nf.forEach(function(c){ sets.push(lineSet(c, GREEN, 10)); });
  (p.corner || []).forEach(function(c){ sets.push(lineSet(c, GREEN, 10)); });
  return sets;
}

panels.forEach(function(p){
  var cv = document.createElement('canvas');
  cv.width = PANEL + 2 * MARGIN;
  cv.height = PANEL + 2 * MARGIN;
  cv.style.left = (colLeft[p.col] - MARGIN) + 'px';
  cv.style.top = (rowTop[p.row] - MARGIN) + 'px';
  document.body.appendChild(cv);

  var xs = p.x.ticks ? TICK_LEN : 0, ys = p.y.ticks ? TICK_LEN : 0;
  var xPos = p.x.pos || 'bottom', yPos = p.y.pos || 'left';
  new Chart(cv, {
    type: 'scatter',
    data: { datasets: buildDatasets(p) },
    options: {
      responsive: false, animation: false, events: [], devicePixelRatio: 1,
      layout: { padding: {
        left: MARGIN - (yPos === 'left' ? ys : 0), right: MARGIN - (yPos === 'right' ? ys : 0),
        top: MARGIN - (xPos === 'top' ? xs : 0), bottom: MARGIN - (xPos === 'bottom' ? xs : 0) } },
      elements: { line: { capBezierPoints: false } },
      scales: { x: scaleOpts('x', p.x), y: scaleOpts('y', p.y) },
      plugins: { legend: { display: false }, tooltip: { enabled: false },
        tickLabels: p.labels || {} }
    },
    plugins: [framePlugin, tickLabelPlugin]
  });
});

// squeeze the body text to the poster's measured width
(function(){
  var m = document.createElement('canvas').getContext('2d');
  m.font = 'bold 92px "DejaVu Serif"';
  var sx = 753 / m.measureText('GWTC3.0 results,').width;
  document.querySelectorAll('text.pt').forEach(function(t){
    var xe = +t.getAttribute('x');
    var k = sx * (+t.getAttribute('data-w') || 1);
    t.setAttribute('transform', 'translate(' + xe + ' 0) scale(' + k.toFixed(4) + ' 1) translate(' + (-xe) + ' 0)');
  });
})();
</script>
</body>
</html>
